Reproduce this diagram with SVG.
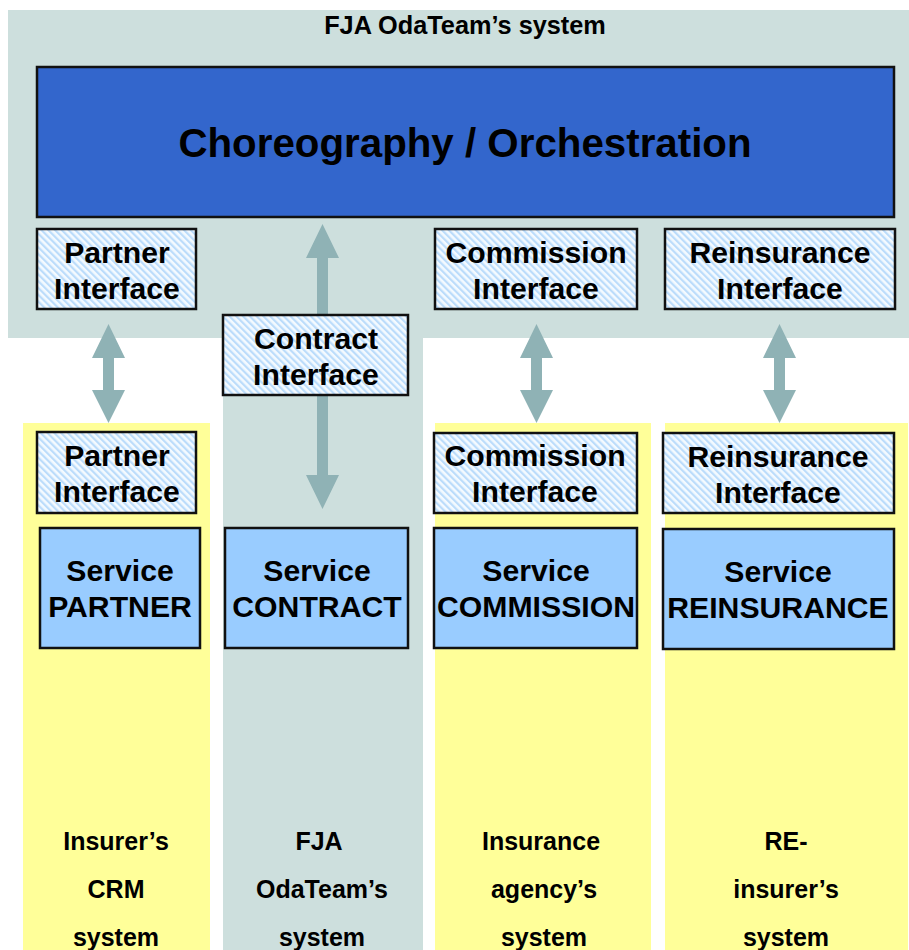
<svg xmlns="http://www.w3.org/2000/svg" width="909" height="950" viewBox="0 0 909 950">
<style>
text{font-family:"Liberation Sans",Arial,sans-serif;font-weight:700;fill:#000;text-anchor:middle}
.lbl{font-size:30.200px}
.cap{font-size:25px}
.box{stroke:#111;stroke-width:2.5}
.hatch{fill:url(#hatch)}
.svc{fill:#99CCFF}
.arrow{fill:#8FB2B5}
</style>
<defs>
<pattern id="hatch" width="4.800" height="4.800" patternUnits="userSpaceOnUse" patternTransform="rotate(-45)">
<rect width="4.800" height="4.800" fill="#F4FAFF"/>
<rect width="2.200" height="4.800" fill="#BBDCFB"/>
</pattern>
</defs>
<rect width="909" height="950" fill="#fff"/>
<g id="backgrounds">
<rect x="8" y="10" width="901" height="328" fill="#CDDFDD"/>
<rect x="223" y="338" width="200" height="612" fill="#CDDFDD"/>
<rect x="23" y="423" width="187" height="527" fill="#FFFF99"/>
<rect x="435" y="423" width="216" height="527" fill="#FFFF99"/>
<rect x="665" y="423" width="243" height="527" fill="#FFFF99"/>
<text x="465" y="34" font-size="25.300">FJA OdaTeam’s system</text>
</g>
<g id="connectors">
<path class="arrow" d="M108.500 324L125 358H114V390H125L108.500 423L92 390H103V358H92Z"/>
<path class="arrow" d="M322.500 224L339 258H328V475H339L322.500 509L306 475H317V258H306Z"/>
<path class="arrow" d="M536.500 324L553 358H542V390H553L536.500 423L520 390H531V358H520Z"/>
<path class="arrow" d="M779.500 324L796 358H785V390H796L779.500 423L763 390H774V358H763Z"/>
</g>
<g id="orchestration">
<rect class="box" x="37" y="67" width="857" height="150" fill="#3366CC"/>
<text x="465" y="157" font-size="40.300">Choreography / Orchestration</text>
</g>
<g id="partner-top">
<rect class="box hatch" x="37" y="229" width="159" height="80"/>
<text class="lbl" x="117" y="263">Partner</text><text class="lbl" x="117" y="299">Interface</text>
</g>
<g id="commission-top">
<rect class="box hatch" x="435" y="229" width="202" height="80"/>
<text class="lbl" x="536" y="263">Commission</text><text class="lbl" x="536" y="299">Interface</text>
</g>
<g id="reinsurance-top">
<rect class="box hatch" x="665" y="229" width="230" height="80"/>
<text class="lbl" x="780" y="263">Reinsurance</text><text class="lbl" x="780" y="299">Interface</text>
</g>
<g id="contract-interface">
<rect class="box hatch" x="223" y="315" width="185" height="80"/>
<text class="lbl" x="316" y="349">Contract</text><text class="lbl" x="316" y="385">Interface</text>
</g>
<g id="partner-bottom">
<rect class="box hatch" x="37" y="432" width="159" height="81"/>
<text class="lbl" x="117" y="466">Partner</text><text class="lbl" x="117" y="502">Interface</text>
</g>
<g id="commission-bottom">
<rect class="box hatch" x="434" y="433" width="203" height="80"/>
<text class="lbl" x="535" y="466">Commission</text><text class="lbl" x="535" y="502">Interface</text>
</g>
<g id="reinsurance-bottom">
<rect class="box hatch" x="663" y="433" width="231" height="80"/>
<text class="lbl" x="778" y="467">Reinsurance</text><text class="lbl" x="778" y="503">Interface</text>
</g>
<g id="service-partner">
<rect class="box svc" x="40" y="528" width="160" height="120"/>
<text class="lbl" x="120" y="581">Service</text><text class="lbl" x="120" y="617">PARTNER</text>
</g>
<g id="service-contract">
<rect class="box svc" x="225" y="528" width="183" height="120"/>
<text class="lbl" x="317" y="581">Service</text><text class="lbl" x="317" y="617">CONTRACT</text>
</g>
<g id="service-commission">
<rect class="box svc" x="434" y="528" width="203" height="120"/>
<text class="lbl" x="536" y="581">Service</text><text class="lbl" x="536" y="617">COMMISSION</text>
</g>
<g id="service-reinsurance">
<rect class="box svc" x="663" y="529" width="231" height="120"/>
<text class="lbl" x="778" y="582">Service</text><text class="lbl" x="778" y="618">REINSURANCE</text>
</g>
<g id="captions">
<text class="cap" x="116" y="850">Insurer’s</text><text class="cap" x="116" y="898">CRM</text><text class="cap" x="116" y="946">system</text>
<text class="cap" x="319" y="850">FJA</text><text class="cap" x="322" y="898">OdaTeam’s</text><text class="cap" x="322" y="946">system</text>
<text class="cap" x="541" y="850">Insurance</text><text class="cap" x="544" y="898">agency’s</text><text class="cap" x="544" y="946">system</text>
<text class="cap" x="786" y="850">RE-</text><text class="cap" x="786" y="898">insurer’s</text><text class="cap" x="786" y="946">system</text>
</g>
</svg>
